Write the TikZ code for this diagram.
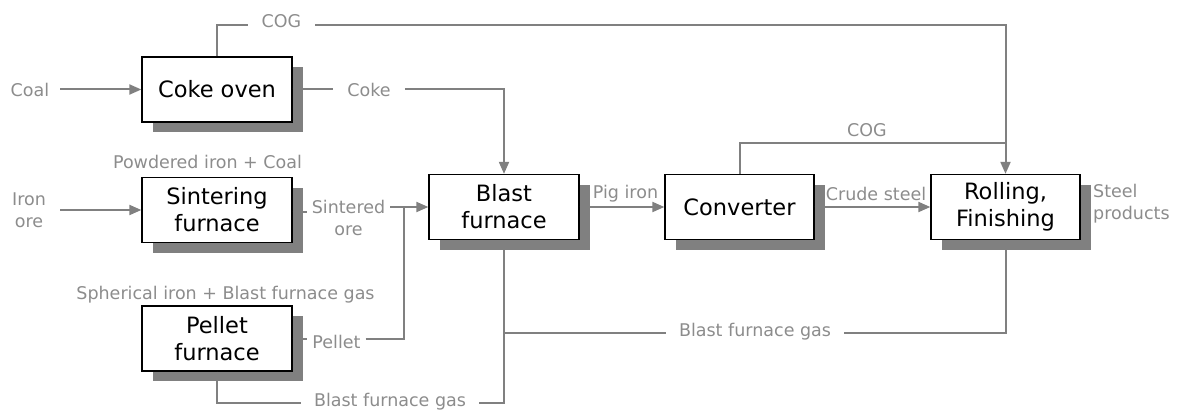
\documentclass[tikz,border=0pt]{standalone}
\usepackage{fontspec}
\setmainfont{DejaVu Sans}
\usetikzlibrary{arrows.meta,shadows}
\definecolor{ln}{HTML}{808080}
\definecolor{lbl}{HTML}{8C8C8C}
\begin{document}
\begin{tikzpicture}[x=1pt,y=-1pt,
 box/.style={draw=black,line width=1.3pt,fill=white,align=center,inner sep=0pt,
   minimum width=150pt,minimum height=65pt,
   font=\fontsize{22.5}{27}\selectfont,
   drop shadow={shadow xshift=11pt,shadow yshift=-10pt,fill=ln,opacity=1}},
 lab/.style={text=lbl,font=\fontsize{17.5}{22}\selectfont,inner ysep=2pt,inner xsep=13pt,align=center},
 con/.style={draw=ln,line width=2pt},
 arr/.style={con,-{Triangle[length=12pt,width=10pt]}}]
\useasboundingbox (0,0) rectangle (1181,412);
% boxes
\node[box] (coke)   at (217,89.5)  {Coke oven};
\node[box] (sinter) at (217,210)   {Sintering\\furnace};
\node[box] (pellet) at (217,338.5) {Pellet\\furnace};
\node[box] (blast)  at (504,207)   {Blast\\furnace};
\node[box,minimum width=149pt] (conv) at (739.5,207) {Converter};
\node[box,minimum width=149pt] (roll) at (1005.5,207) {Rolling,\\Finishing};
% labels
\node[lab,inner xsep=11pt] (coal) at (30,89.5) {Coal};
\node[lab,inner xsep=14pt] (iron) at (29,210) {Iron\\ore};
\node[lab,inner xsep=14pt] (cogT) at (281.5,21) {COG};
\node[lab,inner xsep=14pt] (cokeL) at (369,89.5) {Coke};
\node[lab] (powd) at (207.5,162) {Powdered iron + Coal};
\node[lab,inner xsep=5pt] (sintL) at (348.5,218) {Sintered\\ore};
\node[lab] (spher) at (225.5,295) {Spherical iron + Blast furnace gas};
\node[lab,inner xsep=5pt] (pelL) at (336.5,341.5) {Pellet};
\node[lab] (gasB) at (390,402) {Blast furnace gas};
\node[lab] (gasM) at (755,332) {Blast furnace gas};
\node[lab] (pig) at (625.5,194) {Pig iron};
\node[lab] (crude) at (876,194) {Crude steel};
\node[lab] (cogM) at (867,130) {COG};
\node[lab,anchor=west,align=left,inner xsep=0pt] (steel) at (1093,204) {Steel\\products};
\coordinate (j1) at (404,207);
\coordinate (cogMj) at (1005.5,143);
% connectors
\draw[arr] (coal.east) -- (coke.west);
\draw[con] (coke.north) |- ([yshift=-4pt]cogT.west);
\draw[arr] ([yshift=-4pt]cogT.east) -| (roll.north);
\draw[con] (coke.east) -- (cokeL.west);
\draw[arr] (cokeL.east) -| (blast.north);
\draw[arr] (iron.east |- sinter.west) -- (sinter.west);
\draw[con] ([yshift=-2pt]sinter.east) -- ([yshift=-2pt]sinter.east -| sintL.west);
\draw[arr] (sintL.east |- blast.west) -- (blast.west);
\draw[con] (pellet.east) -- (pellet.east -| pelL.west);
\draw[con] (pelL.east |- pellet.east) -| (j1);
\draw[con] (pellet.south) |- ([yshift=-1pt]gasB.west);
\draw[con] ([yshift=-1pt]gasB.east) -| (blast.south);
\draw[con] (roll.south) |- ([yshift=-1pt]gasM.east);
\draw[con] ([yshift=-1pt]gasM.west) -| (blast.south);
\draw[arr] (blast.east) -- (conv.west);
\draw[arr] (conv.east) -- (roll.west);
\draw[con] (conv.north) |- (cogMj);
\end{tikzpicture}
\end{document}
